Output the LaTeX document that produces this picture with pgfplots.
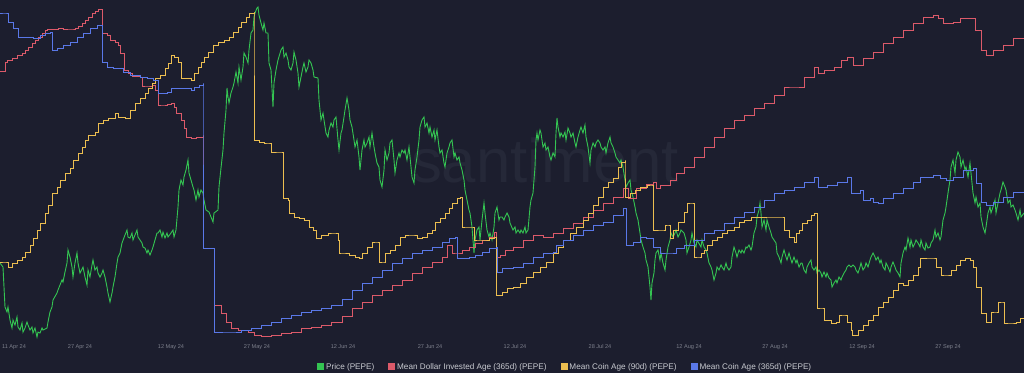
\documentclass[border=0pt]{standalone}
\usepackage{fontspec}
\setmainfont{Liberation Sans}
\usepackage{pgfplots}
\pgfplotsset{compat=1.18}
\definecolor{bg}{RGB}{28,30,46}
\definecolor{cgreen}{RGB}{52,196,82}
\definecolor{cred}{RGB}{220,90,106}
\definecolor{cyellow}{RGB}{236,190,80}
\definecolor{cblue}{RGB}{90,120,232}
\definecolor{ticktxt}{RGB}{125,128,140}
\definecolor{legtxt}{RGB}{200,202,208}
\definecolor{wm}{RGB}{37,40,56}
\begin{document}
\begin{tikzpicture}[x=1bp,y=1bp]
\fill[bg] (0,0) rectangle (1024,373);
\node[text=wm, font=\fontsize{62}{62}\selectfont, anchor=center] at (545,213) {santiment};
\begin{axis}[
  at={(0bp,33bp)}, anchor=south west,
  scale only axis, width=1024bp, height=340bp,
  xmin=0, xmax=1024, ymin=0, ymax=340, y dir=reverse,
  axis line style={draw=none},
  ytick=\empty,
  xtick={14,80,171,257,343,430,515,600,689,775,862,948},
  xticklabels={11 Apr 24,27 Apr 24,12 May 24,27 May 24,12 Jun 24,27 Jun 24,12 Jul 24,28 Jul 24,12 Aug 24,27 Aug 24,12 Sep 24,27 Sep 24},
  major tick length=0pt,
  xticklabel style={font=\fontsize{5.6}{6}\selectfont, text=ticktxt, inner sep=0pt, anchor=north, yshift=-4bp},
  clip=true,
  legend columns=4,
  legend style={draw=none, fill=none, text=legtxt, font=\fontsize{8.2}{9}\selectfont,
    at={(0.552,-0.079)}, anchor=center, inner sep=0pt,
    /tikz/every even column/.append style={column sep=12bp}},
  legend image code/.code={\fill[#1] (0bp,-3bp) rectangle (6bp,3bp);},
  every axis plot/.append style={line width=0.9bp},
]
\addplot[cgreen, sharp plot] coordinates {
(0,263)(3,267)(4,287)(5,307)(7,312)(8,307)(10,320)(12,328)(13,320)(15,325)(17,317)(18,327)(20,330)(22,323)(23,332)(25,328)(27,322)(28,325)(30,330)(32,327)(33,333)(35,328)(37,337)(38,332)(40,333)(42,328)(43,330)(47,328)(48,322)(50,312)(52,307)(53,300)(57,293)(58,290)(60,285)(62,280)(63,282)(65,272)(67,263)(68,250)(70,257)(72,267)(73,277)(75,263)(77,253)(78,263)(80,273)(83,267)(85,277)(87,285)(88,270)(90,277)(92,265)(93,260)(95,270)(97,267)(98,273)(100,277)(102,273)(103,270)(105,277)(107,287)(108,293)(110,302)(112,293)(113,287)(115,277)(117,263)(118,257)(120,253)(122,243)(125,235)(127,230)(128,237)(130,238)(132,233)(133,240)(135,235)(137,230)(138,237)(140,240)(142,243)(143,247)(145,248)(147,253)(148,250)(150,255)(152,250)(153,247)(155,240)(157,233)(158,233)(160,230)(162,237)(163,232)(165,238)(167,233)(168,237)(171,233)
(173,230)(174,237)(176,230)(178,207)(179,190)(181,180)(183,185)(184,177)(186,170)(188,160)(189,173)(191,180)(193,187)(194,190)(196,200)(198,190)(199,197)(201,190)(203,193)(204,200)(206,210)(209,212)(211,217)(213,222)(214,213)(218,210)(219,187)(221,168)(223,150)(224,133)(226,110)(227,88)(228,97)(229,103)(231,93)(233,87)(234,83)(236,72)(238,83)(239,67)(241,80)(243,67)(244,53)(246,57)(248,63)(249,50)(251,33)(253,30)(254,17)(255,13)(257,8)(258,7)(259,15)(261,23)(263,30)(264,23)(266,33)(268,33)(269,63)(271,70)(273,107)(274,83)(276,70)(278,60)(281,50)(283,47)(284,57)(286,53)(288,60)(289,67)(291,70)(293,63)(294,52)(296,60)(298,73)(299,87)(301,77)(303,67)(304,63)(306,72)(308,67)(309,60)(311,63)(313,70)(314,77)(318,78)(319,100)(321,120)(323,113)(324,120)(326,133)(328,137)(329,130)(331,123)(333,127)(334,120)(336,117)(338,140)(339,150)(341,133)(342,130)
(344,117)(345,110)(347,98)(349,110)(350,120)(352,127)(354,140)(355,147)(357,140)(359,157)(360,170)(362,150)(364,140)(365,147)(367,143)(369,137)(370,147)(372,133)(374,147)(375,153)(377,163)(379,167)(380,180)(382,187)(384,170)(385,150)(387,160)(389,153)(390,143)(392,140)(394,160)(395,173)(397,160)(399,153)(400,157)(402,150)(404,153)(405,150)(407,160)(409,147)(410,157)(412,177)(414,183)(415,170)(417,157)(419,140)(420,127)(422,120)(424,117)(425,127)(427,123)(429,133)(430,127)(432,137)(434,130)(435,140)(437,130)(439,147)(440,153)(442,150)(444,163)(445,167)(447,153)(449,147)(450,143)(452,140)(454,157)(455,153)(457,160)(459,157)(460,163)(462,170)(464,180)(465,190)(467,200)(469,210)(470,213)(472,227)(474,253)(475,240)(477,230)(479,227)(480,240)(482,220)(484,203)(485,213)(487,230)(489,237)(490,233)(492,240)(494,227)(495,213)(497,207)(499,220)(500,217)(502,217)(504,220)(505,217)(507,213)(509,217)(510,223)(513,230)
(515,227)(516,233)(518,230)(520,233)(521,230)(523,233)(525,227)(526,233)(528,230)(530,207)(531,200)(533,193)(535,167)(536,140)(537,133)(538,140)(540,130)(541,133)(543,147)(545,143)(546,150)(548,147)(550,157)(551,160)(553,153)(555,157)(556,133)(557,118)(558,127)(560,137)(561,133)(563,137)(565,132)(566,140)(568,128)(570,133)(571,137)(573,133)(575,143)(576,147)(578,137)(580,130)(581,127)(583,133)(585,125)(586,137)(588,147)(590,163)(591,150)(593,143)(595,147)(596,143)(598,140)(600,143)(601,147)(603,150)(605,147)(606,153)(608,143)(610,137)(611,143)(613,147)(615,153)(616,157)(618,160)(620,163)(621,160)(623,167)(625,180)(626,187)(628,183)(630,180)(631,190)(633,197)(635,207)(636,213)(638,220)(640,233)(641,240)(643,247)(645,253)(646,260)(648,267)(650,287)(651,300)(652,283)(654,273)(655,260)(656,253)(658,250)(660,260)(661,253)(663,263)(665,270)(666,260)(668,247)(670,240)(671,233)(673,237)(675,233)(676,230)(678,237)(680,233)(681,230)(684,233)
(686,240)(687,253)(689,247)(691,240)(692,233)(694,243)(696,247)(697,240)(701,247)(702,240)(704,247)(706,250)(707,253)(709,263)(711,267)(712,270)(714,280)(716,273)(717,267)(719,270)(721,265)(722,267)(724,270)(726,263)(727,267)(729,270)(731,267)(732,257)(734,247)(736,253)(737,257)(739,250)(741,253)(742,250)(744,253)(746,247)(747,248)(749,245)(751,250)(752,247)(754,233)(756,227)(757,217)(759,210)(760,203)(761,213)(762,227)(764,220)(766,230)(767,220)(769,227)(771,233)(772,237)(774,240)(776,243)(777,253)(779,257)(781,263)(782,257)(784,250)(786,257)(787,260)(789,253)(791,260)(792,263)(794,257)(796,263)(797,260)(799,267)(801,263)(802,263)(804,270)(806,273)(807,267)(809,263)(811,260)(812,267)(814,270)(816,267)(817,273)(819,270)(821,273)(822,277)(824,272)(826,277)(827,273)(829,278)(831,280)(832,287)(834,283)(836,280)(837,283)(839,277)(841,280)(842,277)(844,273)(846,270)(847,267)(849,265)(851,267)(853,265)
(855,267)(856,270)(858,273)(860,267)(861,263)(863,270)(865,267)(866,263)(868,267)(870,260)(871,257)(873,253)(875,257)(876,260)(878,257)(880,263)(881,260)(883,267)(885,270)(886,263)(888,267)(890,272)(891,267)(893,262)(895,267)(896,270)(898,273)(900,277)(901,263)(903,253)(905,247)(906,250)(908,238)(910,247)(911,240)(913,247)(915,243)(916,240)(918,243)(920,247)(921,240)(923,247)(925,250)(926,243)(928,248)(930,247)(931,243)(933,240)(935,230)(936,237)(938,233)(940,240)(941,237)(943,220)(945,213)(946,207)(948,193)(950,180)(951,167)(953,160)(955,173)(956,160)(958,152)(960,157)(961,167)(963,160)(965,170)(966,167)(968,177)(970,163)(971,173)(973,193)(975,203)(976,197)(978,207)(980,203)(981,217)(983,227)(985,233)(986,227)(988,213)(990,207)(991,213)(993,207)(995,200)(996,213)(998,203)(1000,193)(1001,190)(1003,182)(1005,187)(1006,190)(1008,203)(1010,200)(1011,207)(1013,205)(1015,210)(1016,213)(1018,220)(1020,210)(1021,217)(1024,213)
};
\addlegendentry{Price (PEPE)}
\addplot[cred, const plot] coordinates {
(0,71)(5,62)(7,60)(12,58)(17,55)(22,53)(25,50)(28,47)(32,43)(35,40)(38,37)(42,33)(45,30)(47,29)(58,28)(63,29)(72,29)(75,28)(78,26)(82,23)(85,20)(88,17)(92,13)(95,11)(98,9)(102,9)(102,33)(107,35)(110,40)(115,42)(118,45)(120,53)(124,70)(128,73)(132,76)(140,77)(142,86)(147,86)(152,85)(155,90)(158,105)(163,105)(167,104)(171,103)(174,107)(176,113)(181,120)(184,128)(186,137)(191,138)(196,137)(203,135)(203,248)(214,248)(214,305)(221,313)(226,322)(231,328)(238,330)(248,332)(254,335)(261,336)(271,335)(281,333)(291,332)(301,328)(311,327)(321,325)(331,322)(342,316)(352,308)(362,302)(372,295)(382,290)(392,285)(402,280)(412,273)(422,267)(432,262)(442,257)(447,245)(452,253)(457,253)(462,250)(469,247)(475,243)(482,240)(489,237)(494,232)(496,257)(500,255)(505,250)(513,247)(523,240)(533,235)(543,237)(553,233)(563,228)(573,223)(583,217)(593,210)(603,203)(613,197)(623,188)(628,198)(636,188)(646,184)(653,182)(656,188)(660,185)(670,180)(676,173)(684,167)(694,157)(704,147)(714,137)(724,128)(734,120)(744,115)(754,108)(764,103)(774,95)(784,87)(794,87)(804,77)(814,67)(818,73)(824,70)(834,67)(841,60)(847,57)(853,65)(863,58)(873,52)(883,43)(893,37)(903,30)(913,23)(923,17)(933,15)(938,18)(943,23)(953,22)(960,18)(975,30)(981,50)(986,55)(993,50)(1003,45)(1013,38)(1024,33)
};
\addlegendentry{Mean Dollar Invested Age (365d) (PEPE)}
\addplot[cyellow, const plot] coordinates {
(0,262)(5,262)(8,267)(12,263)(17,260)(22,257)(25,252)(30,245)(33,238)(37,230)(40,223)(45,213)(48,205)(52,193)(57,187)(60,180)(65,173)(70,168)(73,160)(78,153)(82,147)(85,140)(88,135)(95,132)(98,123)(103,120)(108,118)(115,113)(118,117)(125,118)(130,110)(135,103)(140,98)(145,93)(148,88)(152,83)(155,78)(160,75)(165,68)(168,63)(171,55)(174,57)(178,62)(181,78)(191,80)(194,73)(198,67)(201,62)(204,57)(208,52)(213,45)(218,42)(224,40)(229,37)(233,32)(238,27)(241,22)(246,17)(249,13)(254,12)(254,140)(259,142)(264,143)(268,143)(271,152)(281,152)(283,198)(288,200)(289,213)(294,217)(299,218)(304,220)(309,227)(313,230)(316,238)(321,235)(328,233)(334,233)(338,240)(339,253)(342,253)(349,255)(355,257)(359,258)(362,253)(367,247)(372,242)(377,242)(379,262)(384,262)(385,253)(390,250)(395,245)(400,237)(405,235)(412,235)(417,238)(422,237)(427,233)(432,230)(435,222)(440,218)(445,213)(449,208)(452,203)(457,198)(460,197)(462,227)(467,227)(472,227)(474,240)(479,240)(484,240)(489,238)(494,237)(496,237)(496,295)(502,292)(507,288)(513,287)(520,283)(526,277)(533,272)(540,267)(546,262)(553,253)(558,247)(563,240)(570,233)(576,227)(583,220)(588,213)(593,205)(598,197)(603,187)(608,182)(613,178)(618,167)(621,162)(625,160)(625,197)(630,193)(635,190)(640,187)(647,185)(652,185)(653,230)(663,230)(665,225)(668,225)(670,238)(673,230)(678,222)(684,212)(687,203)(692,203)(694,257)(699,257)(701,253)(704,250)(707,245)(712,240)(717,237)(722,233)(727,230)(734,227)(739,222)(744,220)(751,217)(782,217)(784,230)(789,237)(794,242)(796,233)(799,230)(802,223)(807,220)(811,215)(814,213)(817,213)(817,308)(822,308)(824,320)(831,323)(836,322)(839,315)(844,315)(847,322)(851,330)(852,335)(858,330)(863,325)(868,320)(873,315)(878,307)(883,302)(888,297)(893,290)(898,283)(903,285)(908,280)(913,275)(918,267)(920,258)(933,258)(936,267)(941,275)(946,275)(951,270)(956,265)(960,260)(965,258)(970,260)(973,267)(976,287)(981,313)(986,322)(991,312)(996,312)(998,302)(1003,302)(1004,323)(1011,323)(1016,322)(1020,318)(1024,317)
};
\addlegendentry{Mean Coin Age (90d) (PEPE)}
\addplot[cblue, const plot] coordinates {
(0,13)(5,13)(8,22)(13,28)(18,37)(33,38)(40,35)(45,33)(50,32)(52,50)(57,48)(63,45)(70,42)(77,37)(83,33)(90,28)(97,25)(102,25)(102,62)(107,67)(113,68)(123,72)(130,75)(140,77)(147,78)(153,80)(158,93)(167,92)(171,88)(191,90)(194,87)(199,85)(203,83)(203,248)(214,248)(214,332)(231,332)(241,330)(251,328)(261,325)(271,322)(281,318)(291,315)(301,312)(311,310)(321,308)(331,305)(342,299)(352,290)(362,283)(372,277)(382,270)(392,263)(402,258)(412,253)(422,250)(432,247)(442,242)(449,238)(455,237)(457,258)(469,257)(475,255)(482,252)(489,248)(496,247)(497,272)(502,268)(513,267)(523,263)(533,257)(543,253)(553,252)(556,245)(563,240)(573,235)(583,230)(593,225)(603,222)(613,215)(623,208)(626,245)(633,242)(640,237)(646,238)(653,247)(660,253)(670,253)(676,248)(684,245)(694,240)(704,233)(714,230)(724,223)(734,217)(744,212)(754,207)(764,200)(774,193)(784,190)(794,187)(804,182)(814,177)(818,187)(827,185)(837,182)(847,177)(851,193)(860,190)(863,200)(870,198)(873,202)(878,203)(883,198)(893,193)(903,188)(913,182)(920,177)(933,175)(940,178)(946,180)(953,177)(963,170)(973,168)(976,183)(981,202)(986,205)(993,202)(1003,197)(1013,192)(1024,185)
};
\addlegendentry{Mean Coin Age (365d) (PEPE)}
\end{axis}
\pgfresetboundingbox
\useasboundingbox (0,0) rectangle (1024,373);
\end{tikzpicture}
\end{document}
